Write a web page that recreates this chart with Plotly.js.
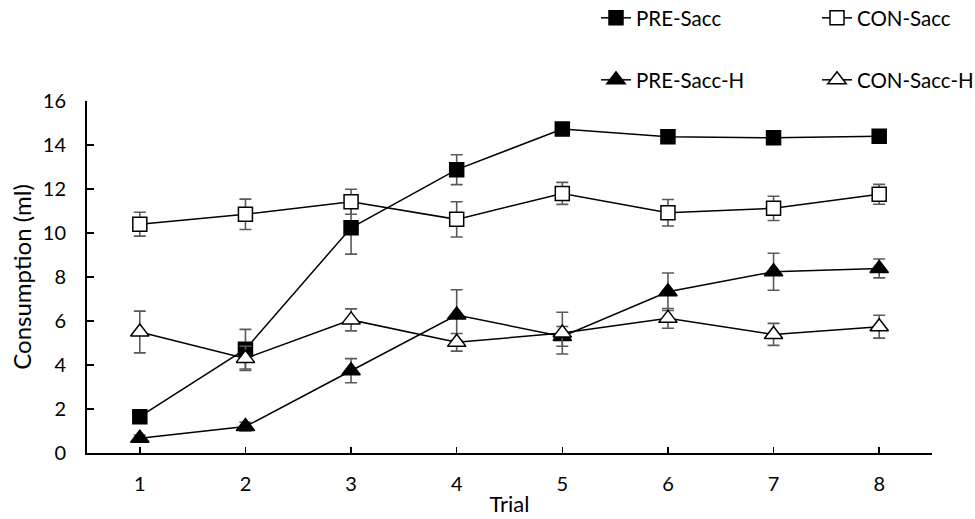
<!DOCTYPE html>
<html>
<head>
<meta charset="utf-8">
<script src="https://cdn.plot.ly/plotly-3.0.1.min.js"></script>
<style>html,body{margin:0;padding:0;background:#fff;}#chart{width:975px;height:519px;}</style>
</head>
<body>
<div id="chart"></div>
<script>
const trials = [1, 2, 3, 4, 5, 6, 7, 8];
const tickLabels = ['1', '2', '3', '4', '5', '6', '7', '8'];

const preSacc = [1.65, 4.72, 10.24, 12.88, 14.73, 14.37, 14.33, 14.40];
const preSaccErr = [0.15, 0.90, 1.20, 0.68, 0.15, 0.15, 0.15, 0.15];

const conSacc = [10.40, 10.85, 11.42, 10.62, 11.80, 10.92, 11.12, 11.76];
const conSaccErr = [0.54, 0.69, 0.57, 0.80, 0.50, 0.60, 0.55, 0.45];

const preSaccH = [0.67, 1.20, 3.74, 6.27, 5.30, 7.33, 8.24, 8.39];
const preSaccHErr = [0.15, 0.20, 0.55, 1.15, 0.45, 0.85, 0.84, 0.43];

const conSaccH = [5.50, 4.30, 6.05, 5.03, 5.45, 6.12, 5.39, 5.74];
const conSaccHErr = [0.95, 0.55, 0.50, 0.40, 0.95, 0.45, 0.50, 0.52];

const FONT = 'Lato, "Open Sans", sans-serif';

function mk(name, y, err, symbol, fill, size, legend) {
  return {
    type: 'scatter', mode: 'lines+markers', name: name,
    x: trials, y: y, legend: legend,
    line: {color: '#000', width: 1.5},
    marker: {symbol: symbol, size: size, color: fill, line: {color: '#000', width: 1.5}},
    error_y: {type: 'data', array: err, visible: true, color: '#5a5a5a', thickness: 1.6, width: 6}
  };
}

const data = [
  mk('PRE-Sacc', preSacc, preSaccErr, 'square', '#000', 14, 'legend'),
  mk('CON-Sacc', conSacc, conSaccErr, 'square', '#fff', 14, 'legend2'),
  mk('PRE-Sacc-H', preSaccH, preSaccHErr, 'triangle-up', '#000', 16, 'legend3'),
  mk('CON-Sacc-H', conSaccH, conSaccHErr, 'triangle-up', '#fff', 16, 'legend4')
];

function lg(px, py) {
  return {
    orientation: 'h', xref: 'container', yref: 'container', xanchor: 'left', yanchor: 'middle',
    x: px / 975, y: 1 - py / 519, bgcolor: 'rgba(0,0,0,0)', borderwidth: 0,
    font: {family: FONT, size: 20.5, color: '#000'}, itemclick: false
  };
}

const layout = {
  width: 975, height: 519,
  margin: {l: 87, r: 43, t: 101, b: 66},
  paper_bgcolor: '#fff', plot_bgcolor: '#fff',
  font: {family: FONT, size: 20, color: '#000'},
  showlegend: true,
  legend: lg(596, 18),
  legend2: lg(817, 18),
  legend3: lg(596, 80),
  legend4: lg(817, 80),
  xaxis: {
    range: [0.5, 8.5], tickmode: 'array',
    tickvals: trials.concat([8.5]), ticktext: tickLabels.concat(['']),
    ticks: 'inside', ticklen: 6, tickwidth: 1.5, tickcolor: '#000',
    showline: true, linecolor: '#000', linewidth: 2, showgrid: false, zeroline: false,
    ticklabelstandoff: 12,
    tickfont: {family: FONT, size: 20, color: '#000'},
    title: {text: 'Trial', font: {family: FONT, size: 22, color: '#000'}, standoff: 3}
  },
  yaxis: {
    range: [0, 16], tickvals: [0, 2, 4, 6, 8, 10, 12, 14, 16],
    ticks: 'inside', ticklen: 7, tickwidth: 1.5, tickcolor: '#000',
    showline: true, linecolor: '#000', linewidth: 2, showgrid: false, zeroline: false,
    ticklabelstandoff: 15,
    tickfont: {family: FONT, size: 20, color: '#000'},
    title: {text: 'Consumption (ml)', font: {family: FONT, size: 24, color: '#000'}, standoff: 4}
  }
};

Plotly.newPlot('chart', data, layout, {staticPlot: true, displayModeBar: false});
</script>
</body>
</html>
